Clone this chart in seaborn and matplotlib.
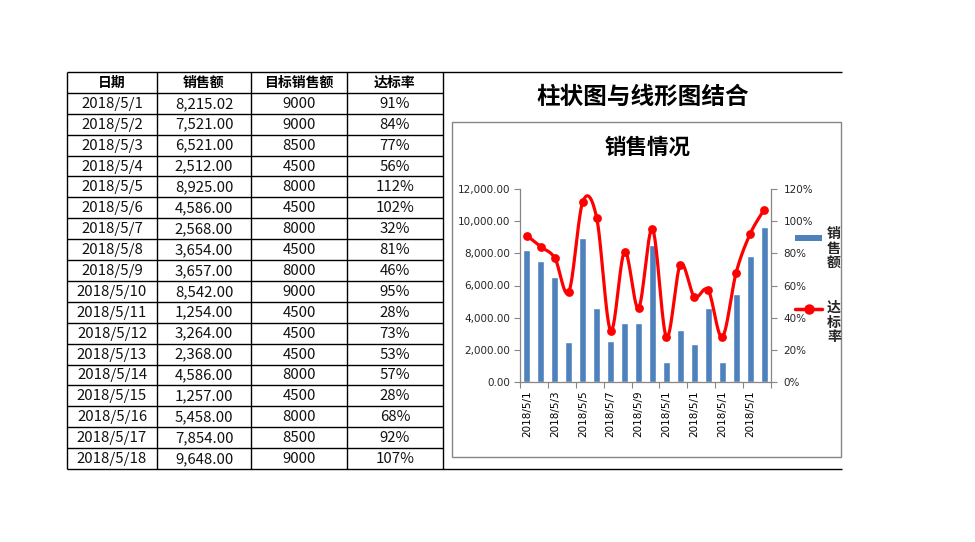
import numpy as np
import matplotlib
matplotlib.use("Agg")
import matplotlib.pyplot as plt
import seaborn as sns
from matplotlib.patches import Rectangle

sns.set_theme(style="white")
plt.rcParams['font.family'] = ['Noto Sans CJK SC', 'DejaVu Sans']

# ---------------- data ----------------
headers = ["日期", "销售额", "目标销售额", "达标率"]
dates = ["2018/5/1", "2018/5/2", "2018/5/3", "2018/5/4", "2018/5/5", "2018/5/6",
         "2018/5/7", "2018/5/8", "2018/5/9", "2018/5/10", "2018/5/11", "2018/5/12",
         "2018/5/13", "2018/5/14", "2018/5/15", "2018/5/16", "2018/5/17", "2018/5/18"]
sales = [8215.02, 7521.00, 6521.00, 2512.00, 8925.00, 4586.00, 2568.00, 3654.00, 3657.00,
         8542.00, 1254.00, 3264.00, 2368.00, 4586.00, 1257.00, 5458.00, 7854.00, 9648.00]
targets = [9000, 9000, 8500, 4500, 8000, 4500, 8000, 4500, 8000,
           9000, 4500, 4500, 4500, 8000, 4500, 8000, 8500, 9000]
rates = [91, 84, 77, 56, 112, 102, 32, 81, 46, 95, 28, 73, 53, 57, 28, 68, 92, 107]
left_ticks = [0, 2000, 4000, 6000, 8000, 10000, 12000]
right_ticks = [0, 20, 40, 60, 80, 100, 120]
page_title = "柱状图与线形图结合"
chart_title = "销售情况"
legend_labels = ["销售额", "达标率"]

BAR = "#4F81BD"
RED = "#FF0000"
GREY = "#868686"
TICKFONT = ['DejaVu Sans']

W, H = 975, 542
fig = plt.figure(figsize=(W / 100, H / 100), dpi=100)
fig.patch.set_facecolor("white")

# background / table layer in pixel coordinates
bg = fig.add_axes([0, 0, 1, 1])
bg.set_xlim(0, W)
bg.set_ylim(H, 0)
bg.axis("off")

col_x = [67, 157, 251, 347, 443]
top, bottom = 72, 469
nrows = len(dates) + 1
rh = (bottom - top) / nrows
lw = 1.0
for i in range(nrows + 1):
    y = top + i * rh
    x1 = 842 if i in (0, nrows) else col_x[-1]
    bg.plot([col_x[0], x1], [y, y], color="black", lw=lw, solid_capstyle="butt")
for x in col_x:
    bg.plot([x, x], [top, bottom], color="black", lw=lw, solid_capstyle="butt")

cx = [(col_x[i] + col_x[i + 1]) / 2 for i in range(4)]
for j, h in enumerate(headers):
    bg.text(cx[j], top + rh / 2, h, ha="center", va="center", fontsize=10, fontweight="bold", color="black")
for i in range(len(dates)):
    y = top + (i + 1.5) * rh
    vals = [dates[i], f"{sales[i]:,.2f}", str(targets[i]), f"{rates[i]}%"]
    for j, v in enumerate(vals):
        bg.text(cx[j], y + 0.5, v, ha="center", va="center", fontsize=10.8, color="#111111")

# page title
bg.text(643, 97, page_title, ha="center", va="center", fontsize=17, fontweight="bold", color="black")
# chart frame
bg.add_patch(Rectangle((452, 122), 841 - 452, 457 - 122, fill=False, edgecolor=GREY, lw=1.0))
bg.text(648, 147, chart_title, ha="center", va="center", fontsize=15.5, fontweight="black", color="black")

# legend
bg.add_patch(Rectangle((795, 235), 27, 6, color=BAR, lw=0))
for k, ch in enumerate(legend_labels[0]):
    bg.text(834, 234 + k * 14.5, ch, ha="center", va="center", fontsize=10, fontweight="black")
bg.plot([795, 822], [309, 309], color=RED, lw=2.5)
bg.plot([809], [309], marker="o", color=RED, markersize=6.5)
for k, ch in enumerate(legend_labels[1]):
    bg.text(834, 308 + k * 14.5, ch, ha="center", va="center", fontsize=10, fontweight="black")

# ---------------- chart ----------------
L, R, T, B = 520, 771, 189, 382
ax = fig.add_axes([L / W, (H - B) / H, (R - L) / W, (B - T) / H])
ax.set_facecolor("none")
sns.barplot(x=dates, y=sales, ax=ax, color=BAR, saturation=1, width=0.5, order=dates)
ax.set_xlim(-0.5, len(dates) - 0.5)
ax.set_ylim(0, 12000)
ax.set_yticks(left_ticks)
ax.set_yticklabels([f"{v:,.2f}" for v in left_ticks], family=TICKFONT)
ax.set_xticks(range(0, len(dates), 2))
ax.set_xticklabels([d[:8] for d in dates[::2]], rotation=90, family=TICKFONT)
ax.set_xticks(np.arange(-0.5, len(dates), 2), minor=True)
ax.tick_params(axis="x", which="major", length=0, pad=6, labelsize=7.5, colors="black")
ax.tick_params(axis="x", which="minor", length=4, width=0.8, color=GREY, direction="out", bottom=True)
ax.tick_params(axis="y", length=4, width=0.8, color=GREY, direction="out", pad=3, labelsize=7.5, left=True)
ax.set_xlabel("")
ax.set_ylabel("")
for s in ["top", "right"]:
    ax.spines[s].set_visible(False)
for s in ["left", "bottom"]:
    ax.spines[s].set_color(GREY)
    ax.spines[s].set_linewidth(0.9)

ax2 = ax.twinx()
ax2.set_ylim(0, 1.2)
ax2.set_yticks([v / 100 for v in right_ticks])
ax2.set_yticklabels([f"{v}%" for v in right_ticks], family=TICKFONT)
ax2.tick_params(axis="y", length=4, width=0.8, color=GREY, direction="out", pad=5, labelsize=7.5, right=True)
for s in ["top", "left", "bottom"]:
    ax2.spines[s].set_visible(False)
ax2.spines["right"].set_color(GREY)
ax2.spines["right"].set_linewidth(0.9)

# smooth (Excel-like Bezier) line through rate points
px = np.arange(len(rates), dtype=float)
py = np.array(rates, dtype=float) / 100
P = np.column_stack([px, py])
curve = []
t = np.linspace(0, 1, 30)[:, None]
for i in range(len(P) - 1):
    p0 = P[i - 1] if i > 0 else P[i]
    p1, p2 = P[i], P[i + 1]
    p3 = P[i + 2] if i + 2 < len(P) else P[i + 1]
    c1 = p1 + (p2 - p0) / 6
    c2 = p2 - (p3 - p1) / 6
    seg = (1 - t) ** 3 * p1 + 3 * (1 - t) ** 2 * t * c1 + 3 * (1 - t) * t ** 2 * c2 + t ** 3 * p2
    curve.append(seg)
curve = np.vstack(curve)
ax2.plot(curve[:, 0], curve[:, 1], color=RED, lw=2.3, solid_capstyle="round")
sns.scatterplot(x=px, y=py, ax=ax2, color=RED, s=40, edgecolor=RED, linewidth=0, zorder=5)
ax2.set_xlim(-0.5, len(dates) - 0.5)

fig.savefig("out.png", dpi=100, facecolor="white")
